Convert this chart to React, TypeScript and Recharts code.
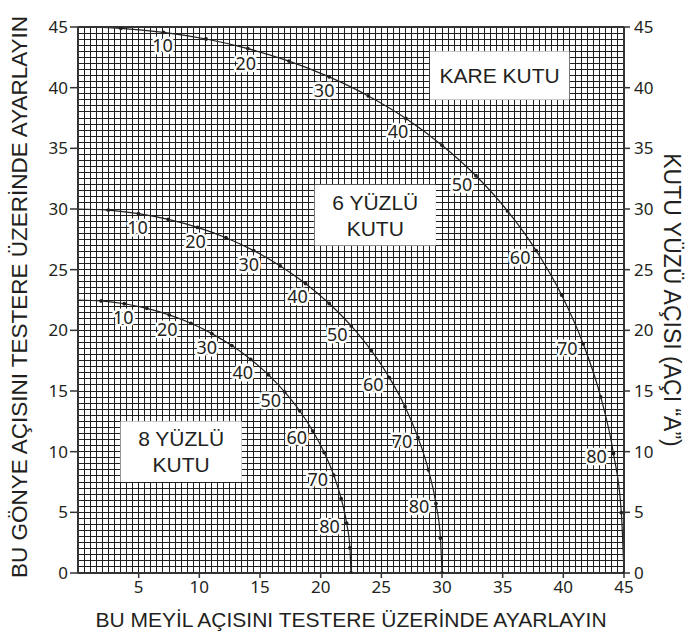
import React from 'react';
import { LineChart, Line, XAxis, YAxis, CartesianGrid, ReferenceArea, Label } from 'recharts';

// kutu yüzü açısı (A), her noktada
const faceAngles = [0, 5, 10, 15, 20, 25, 30, 35, 40, 45, 50, 55, 60, 65, 70, 75, 80, 85, 90];

// KARE KUTU
const squareBevel = [0, 3.53, 7.05, 10.55, 14.0, 17.39, 20.7, 23.93, 27.03, 30.0, 32.8, 35.4, 37.76, 39.86, 41.64, 43.08, 44.13, 44.78, 45];
const squareMiter = [45, 44.89, 44.56, 44.01, 43.22, 42.19, 40.89, 39.32, 37.46, 35.26, 32.74, 29.84, 26.57, 22.91, 18.88, 14.51, 9.85, 4.98, 0];

// 6 YÜZLÜ KUTU
const hexBevel = [0, 2.5, 4.98, 7.44, 9.85, 12.2, 14.48, 16.67, 18.75, 20.7, 22.52, 24.18, 25.66, 26.95, 28.02, 28.88, 29.5, 29.87, 30];
const hexMiter = [30, 29.91, 29.62, 29.14, 28.48, 27.63, 26.57, 25.31, 23.86, 22.21, 20.36, 18.32, 16.1, 13.71, 11.17, 8.5, 5.73, 2.88, 0];

// 8 YÜZLÜ KUTU
const octBevel = [0, 1.91, 3.81, 5.68, 7.52, 9.31, 11.03, 12.68, 14.24, 15.7, 17.05, 18.27, 19.35, 20.29, 21.08, 21.69, 22.14, 22.41, 22.5];
const octMiter = [22.5, 22.42, 22.19, 21.81, 21.27, 20.58, 19.73, 18.74, 17.6, 16.33, 14.91, 13.37, 11.7, 9.93, 8.06, 6.12, 4.11, 2.07, 0];

const topTicks = [0, 5, 10, 15, 20, 25, 30, 35, 40, 45];
const bottomTicks = [5, 10, 15, 20, 25, 30, 35, 40, 45];
const sideTicks = [0, 5, 10, 15, 20, 25, 30, 35, 40, 45];
const labeledAngles = [10, 20, 30, 40, 50, 60, 70, 80];

const boxes = [
  { lines: ['KARE KUTU'], x1: 29, x2: 40.5, y1: 39, y2: 43 },
  { lines: ['6 YÜZLÜ', 'KUTU'], x1: 19.5, x2: 29.5, y1: 27, y2: 32 },
  { lines: ['8 YÜZLÜ', 'KUTU'], x1: 3.5, x2: 13.5, y1: 7.5, y2: 12.5 },
];

const build = (bevel: number[], miter: number[]) =>
  faceAngles.map((a, i) => ({ a, bevel: bevel[i], miter: miter[i] }));

const squareData = build(squareBevel, squareMiter);
const hexData = build(hexBevel, hexMiter);
const octData = build(octBevel, octMiter);

const MAX = 45;
const GRID_STEP = 0.5;
const gridValues = Array.from({ length: MAX / GRID_STEP + 1 }, (_, i) => i * GRID_STEP);

const INK = '#231f20';
const NUM_FONT = '"Noto Sans", "Liberation Sans", sans-serif';
const TITLE_FONT = '"Liberation Sans", Arial, sans-serif';

// label offset (px) from its dot, per face angle
const labelOffset: Record<number, [number, number]> = {
  10: [-1, 13], 20: [-2, 14], 30: [-5, 13], 40: [-8, 13],
  50: [-14, 8], 60: [-16, 6], 70: [-16, 4], 80: [-17, 3],
};

const renderDot = (props: any) => {
  const { cx, cy, payload, index } = props;
  if (payload.a === 0 || cx == null || cy == null) return <g key={`d${index}`} />;
  const showLabel = labeledAngles.includes(payload.a);
  const off = labelOffset[payload.a] || [0, 0];
  return (
    <g key={`d${index}`}>
      <circle cx={cx} cy={cy} r={1.9} fill={INK} />
      {showLabel && (
        <text
          x={cx + off[0]}
          y={cy + off[1]}
          textAnchor="middle"
          dominantBaseline="central"
          fontSize={18}
          fontFamily={NUM_FONT}
          fill={INK}
          stroke="#fff"
          strokeWidth={5}
          strokeLinejoin="round"
          paintOrder="stroke"
        >
          {payload.a}
        </text>
      )}
    </g>
  );
};

const BoxText = ({ viewBox, lines }: any) => {
  if (!viewBox) return null;
  const cx = viewBox.x + viewBox.width / 2;
  const cy = viewBox.y + viewBox.height / 2;
  const lh = 26;
  return (
    <g>
      {lines.map((t: string, i: number) => (
        <text
          key={t}
          x={cx}
          y={cy + (i - (lines.length - 1) / 2) * lh}
          textAnchor="middle"
          dominantBaseline="central"
          fontSize={21}
          fontFamily={TITLE_FONT}
          fill={INK}
        >
          {t}
        </text>
      ))}
    </g>
  );
};

const LeftTitle = ({ viewBox }: any) => {
  const x = (viewBox?.x ?? 0) + 19;
  const y = (viewBox?.y ?? 27) + (viewBox?.height ?? 546) / 2 - 3;
  return (
    <text x={x} y={y} transform={`rotate(-90 ${x} ${y})`} textAnchor="middle" dominantBaseline="central"
      fontSize={22.5} fontFamily={TITLE_FONT} fill={INK}>
      BU GÖNYE AÇISINI TESTERE ÜZERİNDE AYARLAYIN
    </text>
  );
};

const RightTitle = ({ viewBox }: any) => {
  const x = (viewBox?.x ?? 624) + 48;
  const y = (viewBox?.y ?? 27) + (viewBox?.height ?? 546) / 2;
  return (
    <text x={x} y={y} transform={`rotate(90 ${x} ${y})`} textAnchor="middle" dominantBaseline="central"
      fontSize={23} fontFamily={TITLE_FONT} fill={INK}>
      KUTU YÜZÜ AÇISI (AÇI “A”)
    </text>
  );
};

const BottomTitle = ({ viewBox }: any) => {
  const x = (viewBox?.x ?? 78) + (viewBox?.width ?? 546) / 2;
  const y = (viewBox?.y ?? 573) + 46;
  return (
    <text x={x} y={y} textAnchor="middle" dominantBaseline="central"
      fontSize={21} fontFamily={TITLE_FONT} fill={INK}>
      BU MEYİL AÇISINI TESTERE ÜZERİNDE AYARLAYIN
    </text>
  );
};

const tickStyle = { fontSize: 17, fill: INK, fontFamily: NUM_FONT };
const axisLineStyle = { stroke: '#333', strokeWidth: 2 };
const tickLineStyle = { stroke: '#333', strokeWidth: 1.5 };

export default function App() {
  return (
    <div style={{ position: 'absolute', left: 0, top: 0, width: 690, height: 636, background: '#fff' }}>
      <style>{`.recharts-cartesian-grid line { shape-rendering: crispEdges; }`}</style>
      <LineChart width={690} height={636} margin={{ top: 0, right: 0, bottom: 0, left: 0 }}>
        <CartesianGrid
          stroke="#1e1e1e"
          strokeWidth={1}
          verticalCoordinatesGenerator={({ offset }: any) =>
            gridValues.map((v) => offset.left + (v / MAX) * offset.width)
          }
          horizontalCoordinatesGenerator={({ offset }: any) =>
            gridValues.map((v) => offset.top + offset.height - (v / MAX) * offset.height)
          }
        />
        <XAxis
          type="number"
          dataKey="bevel"
          domain={[0, MAX]}
          allowDataOverflow
          ticks={bottomTicks}
          height={63}
          tick={tickStyle}
          tickSize={5}
          tickMargin={3}
          axisLine={axisLineStyle}
          tickLine={tickLineStyle}
        >
          <Label content={<BottomTitle />} />
        </XAxis>
        <XAxis
          xAxisId="top"
          orientation="top"
          type="number"
          domain={[0, MAX]}
          allowDataOverflow
          ticks={topTicks}
          height={27}
          tick={tickStyle}
          tickSize={5}
          tickMargin={1}
          axisLine={axisLineStyle}
          tickLine={tickLineStyle}
        />
        <YAxis
          type="number"
          domain={[0, MAX]}
          allowDataOverflow
          ticks={sideTicks}
          width={78}
          tick={tickStyle}
          tickSize={8}
          tickMargin={2}
          axisLine={axisLineStyle}
          tickLine={tickLineStyle}
        >
          <Label content={<LeftTitle />} />
        </YAxis>
        <YAxis
          yAxisId="right"
          orientation="right"
          type="number"
          domain={[0, MAX]}
          allowDataOverflow
          ticks={sideTicks}
          width={66}
          tick={tickStyle}
          tickSize={6}
          tickMargin={4}
          axisLine={axisLineStyle}
          tickLine={tickLineStyle}
        >
          <Label content={<RightTitle />} />
        </YAxis>

        {boxes.map((b) => (
          <ReferenceArea
            key={b.lines.join(' ')}
            x1={b.x1}
            x2={b.x2}
            y1={b.y1}
            y2={b.y2}
            fill="#fff"
            fillOpacity={1}
            stroke="none"
            ifOverflow="visible"
            label={<BoxText lines={b.lines} />}
          />
        ))}

        <Line data={squareData} dataKey="miter" type="monotone" stroke={INK} strokeWidth={1.2}
          dot={renderDot} activeDot={false} isAnimationActive={false} />
        <Line data={hexData} dataKey="miter" type="monotone" stroke={INK} strokeWidth={1.2}
          dot={renderDot} activeDot={false} isAnimationActive={false} />
        <Line data={octData} dataKey="miter" type="monotone" stroke={INK} strokeWidth={1.2}
          dot={renderDot} activeDot={false} isAnimationActive={false} />
      </LineChart>
    </div>
  );
}
